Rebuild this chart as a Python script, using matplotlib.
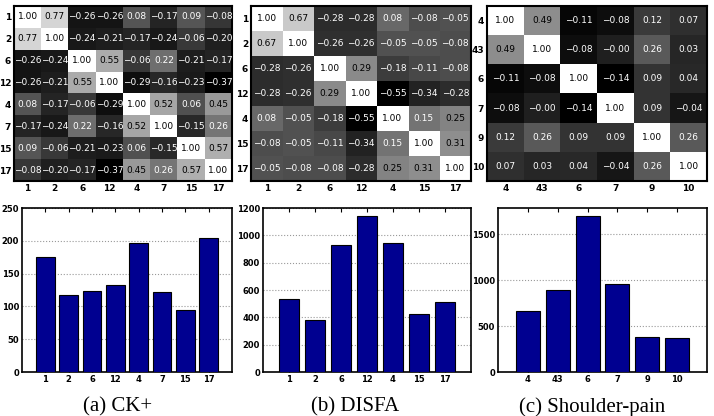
import numpy as np
import matplotlib
matplotlib.use("Agg")
import matplotlib.pyplot as plt
from matplotlib.ticker import MultipleLocator

plt.rcParams['font.family'] = ['DejaVu Sans']

ck_labels = ['1', '2', '6', '12', '4', '7', '15', '17']
ck_corr = [
    [1.00, 0.77, -0.26, -0.26, 0.08, -0.17, 0.09, -0.08],
    [0.77, 1.00, -0.24, -0.21, -0.17, -0.24, -0.06, -0.20],
    [-0.26, -0.24, 1.00, 0.55, -0.06, 0.22, -0.21, -0.17],
    [-0.26, -0.21, 0.55, 1.00, -0.29, -0.16, -0.23, -0.37],
    [0.08, -0.17, -0.06, -0.29, 1.00, 0.52, 0.06, 0.45],
    [-0.17, -0.24, 0.22, -0.16, 0.52, 1.00, -0.15, 0.26],
    [0.09, -0.06, -0.21, -0.23, 0.06, -0.15, 1.00, 0.57],
    [-0.08, -0.20, -0.17, -0.37, 0.45, 0.26, 0.57, 1.00],
]
ck_counts = [176, 118, 124, 132, 196, 122, 95, 204]

disfa_labels = ['1', '2', '6', '12', '4', '15', '17']
disfa_corr = [
    [1.00, 0.67, -0.28, -0.28, 0.08, -0.08, -0.05],
    [0.67, 1.00, -0.26, -0.26, -0.05, -0.05, -0.08],
    [-0.28, -0.26, 1.00, 0.29, -0.18, -0.11, -0.08],
    [-0.28, -0.26, 0.29, 1.00, -0.55, -0.34, -0.28],
    [0.08, -0.05, -0.18, -0.55, 1.00, 0.15, 0.25],
    [-0.08, -0.05, -0.11, -0.34, 0.15, 1.00, 0.31],
    [-0.05, -0.08, -0.08, -0.28, 0.25, 0.31, 1.00],
]
disfa_counts = [537, 380, 926, 1140, 944, 424, 510]

sp_labels = ['4', '43', '6', '7', '9', '10']
sp_corr = [
    [1.00, 0.49, -0.11, -0.08, 0.12, 0.07],
    [0.49, 1.00, -0.08, -0.00, 0.26, 0.03],
    [-0.11, -0.08, 1.00, -0.14, 0.09, 0.04],
    [-0.08, -0.00, -0.14, 1.00, 0.09, -0.04],
    [0.12, 0.26, 0.09, 0.09, 1.00, 0.26],
    [0.07, 0.03, 0.04, -0.04, 0.26, 1.00],
]
sp_counts = [664, 890, 1697, 956, 380, 366]

captions = ['(a) CK+', '(b) DISFA', '(c) Shoulder-pain']

W, H = 714, 416
fig = plt.figure(figsize=(W / 100, H / 100), dpi=100)

def ax_px(x0, y0, x1, y1):
    return fig.add_axes([x0 / W, 1 - y1 / H, (x1 - x0) / W, (y1 - y0) / H])

heat_boxes = [(14, 6, 232, 181), (251, 6, 471, 181), (487, 6, 707, 181)]
bar_boxes = [(22, 208, 232, 372), (263, 208, 471, 372), (498, 208, 707, 372)]
bar_ylims = [(0, 250, 50), (0, 1200, 200), (0, 1785, 500)]
cap_x = [118, 355, 592]

datasets = [(ck_labels, ck_corr, ck_counts), (disfa_labels, disfa_corr, disfa_counts),
            (sp_labels, sp_corr, sp_counts)]

for i, (labels, corr, counts) in enumerate(datasets):
    M = np.array(corr)
    ax = ax_px(*heat_boxes[i])
    vmin, vmax = M.min(), 1.0
    ax.imshow(M, cmap='gray', vmin=vmin, vmax=vmax, aspect='auto', interpolation='nearest')
    n = len(labels)
    for r in range(n):
        for c in range(n):
            v = M[r, c]
            norm = (v - vmin) / (vmax - vmin)
            col = 'black' if norm > 0.5 else 'white'
            txt = f'{v:.2f}'.replace('-', '\u2212')
            ax.text(c, r, txt, ha='center', va='center', fontsize=6.5, color=col)
    ax.set_xticks(range(n))
    ax.set_yticks(range(n))
    ax.set_xticklabels(labels, fontsize=6.5, fontweight='bold')
    ax.set_yticklabels(labels, fontsize=6.5, fontweight='bold')
    ax.tick_params(length=0, pad=2)
    for s in ax.spines.values():
        s.set_linewidth(1.5)

    bx = ax_px(*bar_boxes[i])
    x = np.arange(1, n + 1)
    bx.bar(x, counts, width=0.8, color='#000090', edgecolor='black', linewidth=0.8, zorder=3)
    lo, hi, step = bar_ylims[i]
    bx.set_ylim(lo, hi)
    bx.set_xlim(0, n + 1)
    bx.yaxis.set_major_locator(MultipleLocator(step))
    bx.set_xticks(x)
    bx.set_xticklabels(labels, fontsize=6, fontweight='bold')
    bx.tick_params(axis='y', labelsize=6)
    for lab in bx.get_yticklabels():
        lab.set_fontweight('bold')
    bx.tick_params(direction='in', top=True, right=False, length=3, pad=2)
    bx.tick_params(axis='y', left=False)
    bx.grid(axis='y', linestyle=':', color='#999999', linewidth=0.8, zorder=0)
    for s in bx.spines.values():
        s.set_linewidth(1.2)

    fig.text(cap_x[i] / W, 1 - 407 / H, captions[i], ha='center', va='center',
             fontsize=15, family='Liberation Serif')

fig.savefig('out.png', dpi=100)
